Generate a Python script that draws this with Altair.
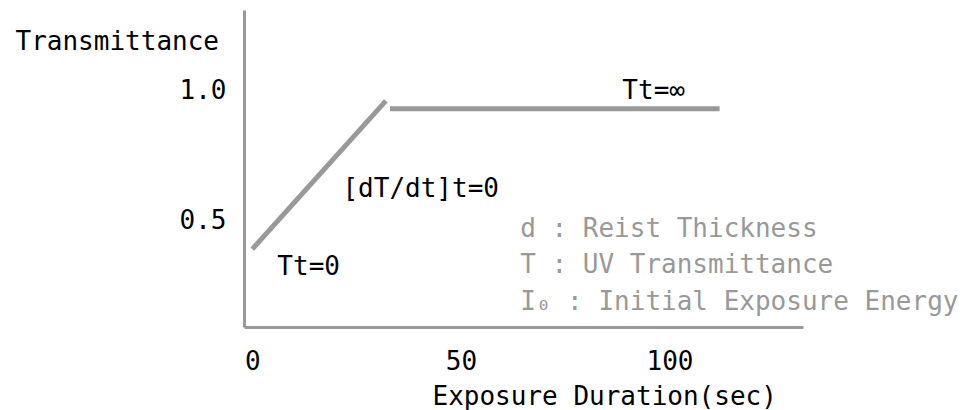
import altair as alt
import pandas as pd

# Transmittance vs. exposure time: linear rise from t=0, then a flat plateau (Tt=inf)
seg_name = ["rise", "rise", "plateau", "plateau"]
seg_time = [0, 32, 33, 112]
seg_T = [0.39, 0.96, 0.93, 0.93]

x_ticks = [0, 50, 100]
y_ticks = [0.5, 1.0]

note_text = ["Tt=∞", "[dT/dt]t=0", "Tt=0"]
note_time = [88.7, 21.6, 6.0]
note_T = [1.0, 0.623, 0.319]

legend_text = ["d : Reist Thickness", "T : UV Transmittance", "I₀ : Initial Exposure Energy"]
legend_time = [64.2, 64.2, 64.2]
legend_T = [0.469, 0.329, 0.188]

FONT = "DejaVu Sans Mono"
SIZE = 26
GRAY = "#999999"

curve = pd.DataFrame({"segment": seg_name, "time": seg_time, "T": seg_T})
notes = pd.DataFrame({"label": note_text, "time": note_time, "T": note_T})
legend = pd.DataFrame({"label": legend_text, "time": legend_time, "T": legend_T})

x_scale = alt.Scale(domain=[-2, 132], nice=False, zero=False)
y_scale = alt.Scale(domain=[0.09, 1.31], nice=False, zero=False)

x_axis = alt.Axis(
    values=x_ticks, grid=False, ticks=False, tickSize=0,
    domainColor=GRAY, domainWidth=3,
    labelFont=FONT, labelFontSize=SIZE, labelColor="black",
    labelPadding=21, labelFlush=False, labelOverlap=False,
    title="Exposure Duration(sec)", titleFont=FONT, titleFontSize=SIZE,
    titleFontWeight="normal", titleColor="black",
    titleX=188, titleY=69, titleAlign="left", titleBaseline="middle",
)
y_axis = alt.Axis(
    values=y_ticks, format=".1f", grid=False, ticks=False, tickSize=0,
    domainColor=GRAY, domainWidth=3,
    labelFont=FONT, labelFontSize=SIZE, labelColor="black",
    labelPadding=18, labelFlush=False, labelOverlap=False,
    title="Transmittance", titleFont=FONT, titleFontSize=SIZE,
    titleFontWeight="normal", titleColor="black", titleAngle=0,
    titleX=-229, titleY=31, titleAlign="left", titleBaseline="middle",
)

lines = alt.Chart(curve).mark_line(color=GRAY, strokeWidth=5, strokeCap="butt").encode(
    x=alt.X("time:Q", scale=x_scale, axis=x_axis),
    y=alt.Y("T:Q", scale=y_scale, axis=y_axis),
    detail="segment:N",
)

note_layer = alt.Chart(notes).mark_text(
    font=FONT, fontSize=SIZE, color="black", align="left", baseline="middle"
).encode(
    x=alt.X("time:Q", scale=x_scale),
    y=alt.Y("T:Q", scale=y_scale),
    text="label:N",
)

legend_layer = alt.Chart(legend).mark_text(
    font=FONT, fontSize=SIZE, color=GRAY, align="left", baseline="middle"
).encode(
    x=alt.X("time:Q", scale=x_scale),
    y=alt.Y("T:Q", scale=y_scale),
    text="label:N",
)

chart = (
    alt.layer(lines, note_layer, legend_layer)
    .properties(
        width=559,
        height=317,
        autosize=alt.AutoSizeParams(type="none"),
        padding={"left": 244, "top": 10, "right": 162, "bottom": 83},
        background="white",
    )
    .configure_view(stroke=None)
)

chart.save("out.html", embed_options={"renderer": "svg", "actions": False})
